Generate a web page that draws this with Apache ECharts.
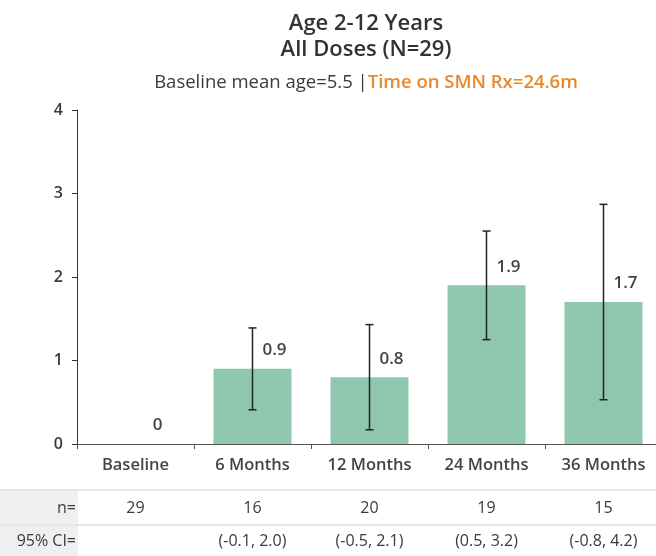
<!DOCTYPE html>
<html>
<head>
<meta charset="utf-8">
<script src="https://cdn.jsdelivr.net/npm/echarts@6/dist/echarts.min.js"></script>
<style>
  html, body { margin: 0; padding: 0; background: #fff; }
  #chart { width: 656px; height: 556px; }
</style>
</head>
<body>
<div id="chart"></div>
<script>
// 数据
const categories = ['Baseline', '6 Months', '12 Months', '24 Months', '36 Months']
const meanValues = [0, 0.9, 0.8, 1.9, 1.7]
const errLow = [null, 0.41, 0.17, 1.25, 0.53]
const errHigh = [null, 1.39, 1.43, 2.55, 2.87]
const nValues = ['29', '16', '20', '19', '15']
const ciValues = ['', '(-0.1, 2.0)', '(-0.5, 2.1)', '(0.5, 3.2)', '(-0.8, 4.2)']
const yTicks = [0, 1, 2, 3, 4]

const FONT = '"Open Sans", "Noto Sans", sans-serif'

const errData = categories.map((c, i) => [i, errLow[i], errHigh[i]]).filter(d => d[1] !== null)

// 表格行：用额外的类目轴对齐到每个柱子
function tableAxis(labels, offset) {
  return {
    type: 'category',
    data: labels,
    position: 'bottom',
    offset: offset,
    axisLine: { show: false },
    axisTick: { show: false },
    axisLabel: {
      margin: 0,
      verticalAlign: 'middle',
      color: '#3a3a3a',
      fontSize: 16,
      fontFamily: FONT
    }
  }
}

const option = {
  animation: false,
  backgroundColor: '#fff',
  title: [
    {
      text: 'Age 2-12 Years\nAll Doses (N=29)',
      left: 361,
      top: 6,
      textAlign: 'center',
      textStyle: { fontSize: 22, fontWeight: 600, color: '#333', lineHeight: 26, fontFamily: FONT }
    },
    {
      text: '{a|Baseline mean age=5.5 |}{b|Time on SMN Rx=24.6m}',
      left: 361,
      top: 68,
      textAlign: 'center',
      textStyle: {
        fontFamily: FONT,
        rich: {
          a: { fontSize: 18.5, color: '#3a3a3a', fontWeight: 'normal', fontFamily: FONT },
          b: { fontSize: 18.5, color: '#e8892c', fontWeight: 600, fontFamily: FONT }
        }
      }
    }
  ],
  grid: { left: 77, width: 585, top: 110, height: 334, outerBoundsMode: 'none', containLabel: false },
  xAxis: [
    {
      type: 'category',
      data: categories,
      axisLine: { lineStyle: { color: '#555', width: 1 } },
      axisTick: { show: true, length: 5, lineStyle: { color: '#555' } },
      axisLabel: { margin: 13, fontSize: 16.5, fontWeight: 600, color: '#444', fontFamily: FONT }
    },
    tableAxis(nValues, 64),
    tableAxis(ciValues, 97)
  ],
  yAxis: {
    type: 'value',
    min: 0,
    max: 4,
    interval: 1,
    splitLine: { show: false },
    axisLine: { show: true, lineStyle: { color: '#333', width: 1 } },
    axisTick: { show: true, length: 5, lineStyle: { color: '#333' } },
    axisLabel: {
      margin: 14,
      fontSize: 16,
      fontWeight: 600,
      color: '#3a3a3a',
      fontFamily: FONT,
      formatter: v => (yTicks.includes(v) ? String(v) : '')
    }
  },
  graphic: [
    { type: 'rect', shape: { x: 0, y: 489, width: 656, height: 2 }, style: { fill: '#e6e6e6' }, z: -1 },
    { type: 'rect', shape: { x: 0, y: 491, width: 78, height: 65 }, style: { fill: '#efefef' }, z: -2 },
    { type: 'rect', shape: { x: 0, y: 524, width: 656, height: 2 }, style: { fill: '#e6e6e6' }, z: -1 },
    { type: 'text', x: 76, y: 508, style: { text: 'n=', fontSize: 16, fill: '#3a3a3a', fontFamily: FONT, align: 'right', verticalAlign: 'middle' } },
    { type: 'text', x: 76, y: 541, style: { text: '95% CI=', fontSize: 16, fill: '#3a3a3a', fontFamily: FONT, align: 'right', verticalAlign: 'middle' } }
  ],
  series: [
    {
      type: 'bar',
      data: meanValues,
      barWidth: 78,
      itemStyle: { color: '#8fc7ae' },
      label: {
        show: true,
        position: 'top',
        offset: [22, -5],
        fontSize: 17,
        fontWeight: 600,
        color: '#444',
        fontFamily: FONT
      }
    },
    {
      type: 'custom',
      data: errData,
      z: 10,
      renderItem: function (params, api) {
        const x = api.value(0)
        const lo = api.coord([x, api.value(1)])
        const hi = api.coord([x, api.value(2)])
        const w = 4
        const st = { stroke: '#222', lineWidth: 1.5 }
        return {
          type: 'group',
          children: [
            { type: 'line', shape: { x1: lo[0], y1: lo[1], x2: hi[0], y2: hi[1] }, style: st },
            { type: 'line', shape: { x1: lo[0] - w, y1: lo[1], x2: lo[0] + w, y2: lo[1] }, style: st },
            { type: 'line', shape: { x1: hi[0] - w, y1: hi[1], x2: hi[0] + w, y2: hi[1] }, style: st }
          ]
        }
      }
    }
  ]
}

const myChart = echarts.init(document.getElementById('chart'))
myChart.setOption(option)
</script>
</body>
</html>
